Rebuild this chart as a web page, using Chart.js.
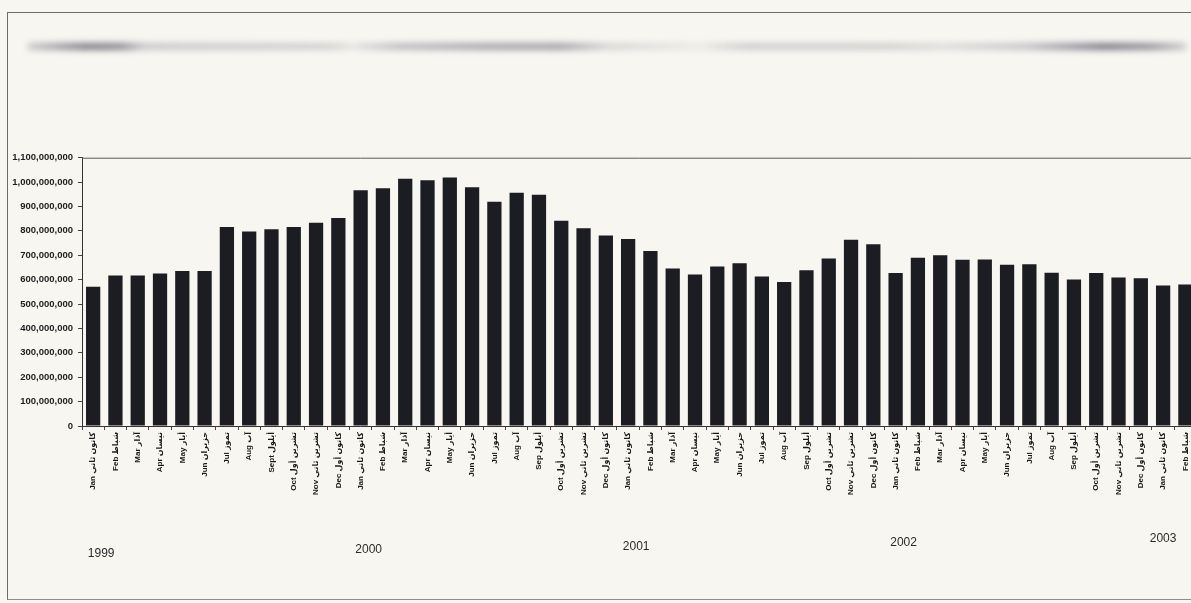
<!DOCTYPE html>
<html>
<head>
<meta charset="utf-8">
<script src="https://cdn.jsdelivr.net/npm/chart.js@4.4.1/dist/chart.umd.min.js"></script>
<style>
  html, body { margin: 0; padding: 0; width: 1191px; height: 603px; overflow: hidden; background: #f8f6f1; }
  #frame {
    position: absolute; left: 7px; top: 12px; width: 1200px; height: 586px;
    border-left: 1px solid #6c6c6c; border-top: 1px solid #6c6c6c; border-bottom: 1px solid #8c8c8c;
  }
  /* faded heading strip at the top of the page */
  #smear {
    position: absolute; left: 28px; top: 43px; width: 1158px; height: 7px; filter: blur(3px);
    background: linear-gradient(to right,
      rgba(120,120,135,0.35) 0%, rgba(85,85,100,0.75) 5%, rgba(90,90,105,0.7) 8%,
      rgba(130,130,145,0.4) 10%, rgba(140,140,150,0.35) 26%, rgba(160,160,170,0.2) 28%,
      rgba(120,120,135,0.45) 32%, rgba(110,110,125,0.6) 40%, rgba(105,105,120,0.6) 46%,
      rgba(140,140,150,0.3) 50%, rgba(170,170,180,0.15) 58%, rgba(130,130,145,0.35) 62%,
      rgba(135,135,145,0.35) 74%, rgba(150,150,160,0.25) 79%, rgba(125,125,140,0.4) 86%,
      rgba(80,80,100,0.75) 93%, rgba(95,95,110,0.65) 97%, rgba(130,130,145,0.35) 100%);
  }
  #wrap { position: absolute; left: 0; top: 147px; width: 1197px; height: 453px; }
</style>
</head>
<body>
<div id="frame"></div>
<div id="smear"></div>
<div id="wrap"><canvas id="barChart"></canvas></div>
<script>
const monthsEn = ['Jan', 'Feb', 'Mar', 'Apr', 'May', 'Jun', 'Jul', 'Aug', 'Sep', 'Oct', 'Nov', 'Dec'];
const monthsAr = ['كانون ثاني', 'شباط', 'آذار', 'نيسان', 'أيار', 'حزيران', 'تموز', 'آب', 'أيلول', 'تشرين أول', 'تشرين ثاني', 'كانون أول'];
const years = ['1999', '2000', '2001', '2002', '2003'];
const monthCount = 50; // Jan 1999 .. Feb 2003

const values = [
    571e6, 617e6, 617e6, 625e6, 635e6, 635e6, 816e6, 797e6, 807e6, 816e6, 833e6, 853e6,   // 1999
    967e6, 975e6, 1014e6, 1008e6, 1019e6, 979e6, 919e6, 956e6, 948e6, 841e6, 811e6, 781e6, // 2000
    767e6, 717e6, 646e6, 621e6, 654e6, 667e6, 613e6, 590e6, 639e6, 687e6, 764e6, 745e6,   // 2001
    627e6, 690e6, 700e6, 682e6, 683e6, 661e6, 663e6, 628e6, 601e6, 627e6, 609e6, 606e6,   // 2002
    576e6, 580e6                                                                       // 2003
];

const yTicks = [0, 1e8, 2e8, 3e8, 4e8, 5e8, 6e8, 7e8, 8e8, 9e8, 1e9, 1.1e9];

const labels = [];
for (let i = 0; i < monthCount; i++) {
    let en = monthsEn[i % 12];
    if (i === 8) en = 'Sept'; // first year spells it out
    labels.push(en + ' ' + monthsAr[i % 12]);
}

const fontFamily = "Arial, 'Liberation Sans', 'DejaVu Sans', sans-serif";

// top border of the plot + year captions under each January
const extras = {
    id: 'extras',
    afterDraw(chart) {
        const { ctx, chartArea, scales } = chart;
        ctx.save();
        ctx.strokeStyle = '#5a5a5a';
        ctx.lineWidth = 1;
        ctx.beginPath();
        ctx.moveTo(chartArea.left, chartArea.top + 0.5);
        ctx.lineTo(chartArea.right, chartArea.top + 0.5);
        ctx.stroke();

        ctx.font = '12px ' + fontFamily;
        ctx.fillStyle = '#2b2b2b';
        ctx.textAlign = 'center';
        years.forEach((yr, k) => {
            const x = scales.x.getPixelForValue(k * 12) + (k === 4 ? 0 : 8);
            ctx.fillText(yr, x, 410 - k * 3.7);
        });
        ctx.restore();
    }
};

const ctx = document.getElementById('barChart').getContext('2d');
const barChart = new Chart(ctx, {
    type: 'bar',
    data: {
        labels: labels,
        datasets: [{
            data: values,
            backgroundColor: '#1c1d23',
            borderWidth: 0,
            categoryPercentage: 1,
            barPercentage: 0.64
        }]
    },
    options: {
        responsive: true,
        maintainAspectRatio: false,
        animation: false,
        layout: { padding: { top: 10, left: 0, right: 0, bottom: 0 } },
        plugins: {
            legend: { display: false },
            tooltip: { enabled: false }
        },
        scales: {
            x: {
                afterFit(scale) { scale.height = 174; },
                grid: { display: true, drawOnChartArea: false, tickLength: 4, color: '#444', offset: true },
                border: { display: true, color: '#333', width: 1 },
                ticks: {
                    autoSkip: false,
                    maxRotation: 90,
                    minRotation: 90,
                    padding: 2,
                    color: '#1a1a1a',
                    font: { family: fontFamily, size: 8, weight: 'bold' }
                }
            },
            y: {
                min: 0,
                max: 1.1e9,
                afterFit(scale) { scale.width = 82; },
                afterBuildTicks(scale) { scale.ticks = yTicks.map(v => ({ value: v })); },
                grid: { display: true, drawOnChartArea: false, tickLength: 4, color: '#444' },
                border: { display: true, color: '#333', width: 1 },
                ticks: {
                    padding: 5,
                    color: '#1e1e1e',
                    font: { family: fontFamily, size: 9.5, weight: 'bold' },
                    callback: v => v.toLocaleString('en-US')
                }
            }
        }
    },
    plugins: [extras]
});
</script>
</body>
</html>
